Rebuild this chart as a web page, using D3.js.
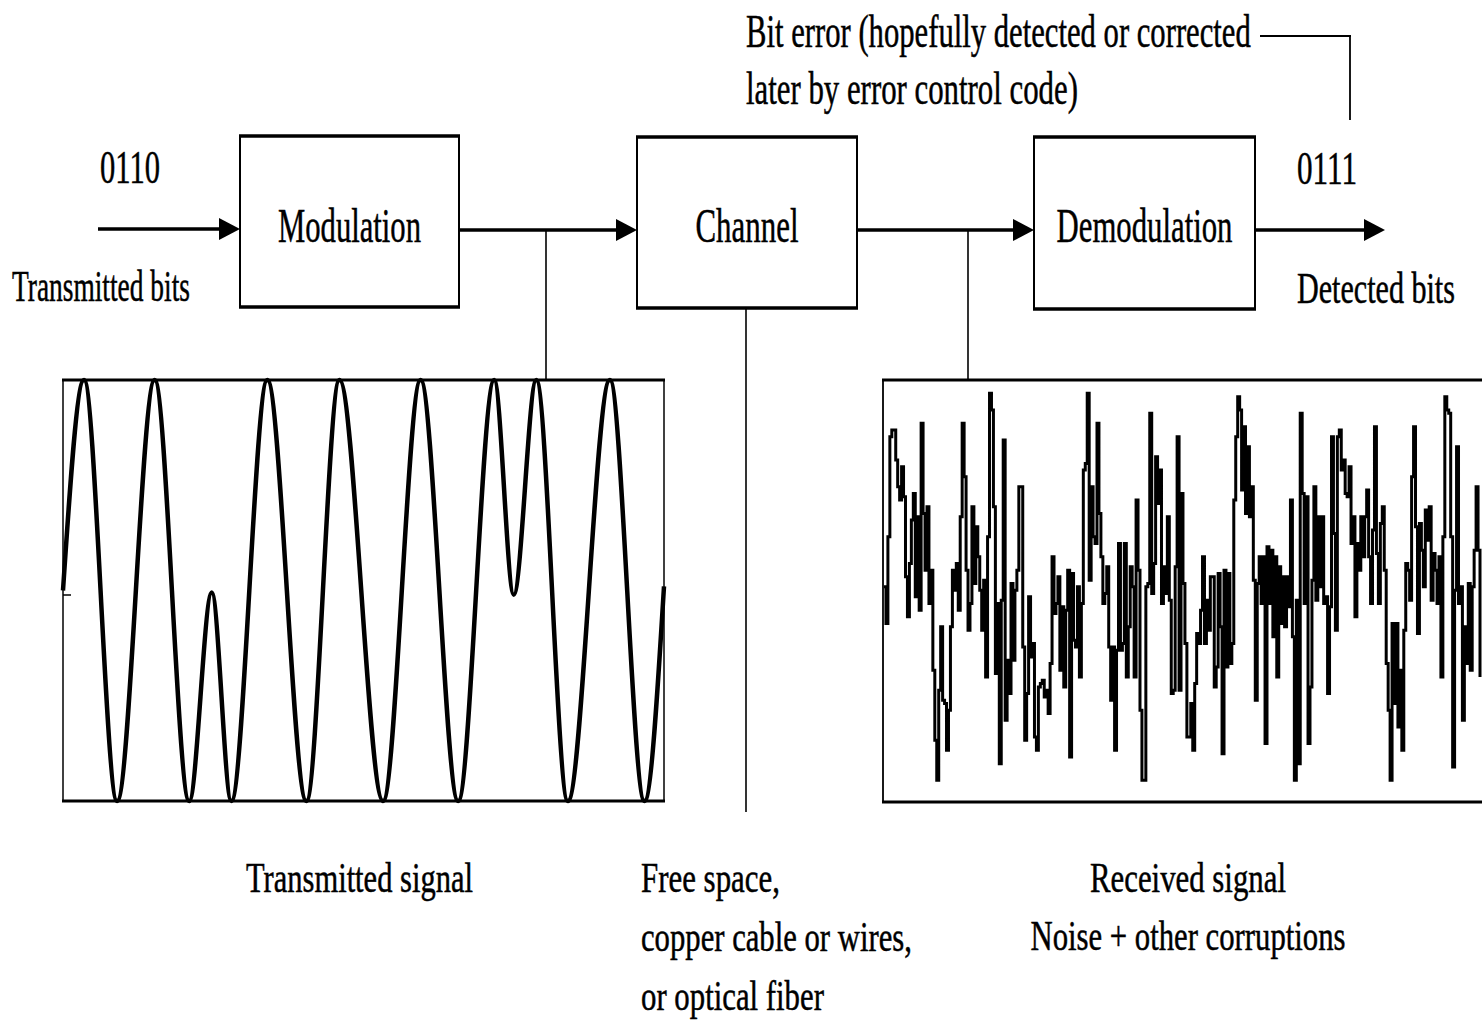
<!DOCTYPE html>
<head>
    <meta charset="utf-8">
    <title>Digital communication system</title>
    <script type="text/javascript" src="https://d3js.org/d3.v7.min.js"></script>
    <style>
        body { margin: 0; background: #fff; }
        text { font-family: "Liberation Serif", "DejaVu Serif", serif; fill: #000; stroke: #000; stroke-width: 0.5px; }
    </style>
</head>
<body>
<div id="container"></div>
<script>
    //-----------------------------DATA------------------------------//
    const blockLabels = ["Modulation", "Channel", "Demodulation"];
    const transmittedBits = "0110";
    const detectedBits = "0111";
    const bitErrorNote = ["Bit error (hopefully detected or corrected", "later by error control code)"];
    const channelNote = ["Free space,", "copper cable or wires,", "or optical fiber"];
    const receivedNote = ["Received signal", "Noise + other corruptions"];

    // transmitted (BPSK) signal, extrema: [time in bit periods, amplitude]
    const txSignal = [
        [0.00, 0.00], [0.14, 1], [0.36, -1], [0.61, 1], [0.84, -1], [0.99, -0.01],
        [1.12, -1], [1.36, 1], [1.62, -1], [1.84, 1], [2.13, -1], [2.38, 1],
        [2.63, -1], [2.87, 1], [3.00, -0.02], [3.15, 1], [3.36, -1], [3.64, 1],
        [3.87, -1], [4.00, 0.02]
    ];

    // received signal, sample-and-hold values (arbitrary units)
    const rxSignal = [
        1, -10, 16, 46, 48, 48, 39, 31, 27, 37, 28, 4, -8, 8, 21, 29, -2, 22, -6, 50,
        23, 6, 25, -4, 6, -24, -45, -57, -30, -11, -33, -34, -48, -36, -11, 6, 0, 8, -6, 22,
        50, 34, 6, -12, -4, 25, 2, 19, 10, 0, -12, 3, -26, 16, 59, 54, 25, -25, -4, -52,
        -3, 45, -39, -21, -31, 2, -21, 0, 6, 31, 31, -17, -45, -31, -2, -20, -16, -44, -48, -29,
        -28, -27, -32, -30, -37, -22, 10, -7, -4, 4, -24, -5, -29, -6, 6, -50, 5, -15, -17, 1,
        -26, -4, 36, 38, 59, 3, 31, 16, 14, 50, 23, 10, -4, -1, 7, -17, -33, -17, -48, -18,
        14, -18, -16, 14, -26, -11, 7, 1, -26, 27, 6, -36, -57, -57, 1, 2, 53, -1, 8, 40,
        26, 36, -4, 7, -1, 22, -3, -31, -30, 7, 46, -30, 29, 2, -16, -44, -44, -34, -48, -28,
        -13, -16, -6, 10, -16, -3, -12, 4, 4, -29, -23, 5, -11, -49, 6, -23, 5, -22, -16, 27,
        46, 58, 54, 30, 49, 23, 43, 22, 31, 3, -33, 2, 10, -4, 10, -46, 13, -4, 12, -14,
        10, -26, 7, -10, 4, -11, 4, -5, 27, -14, -57, -3, -52, 53, 29, -4, 28, -46, -29, 3,
        31, -3, 22, 1, 22, -4, -2, -31, -5, 46, 17, -12, 46, 48, 36, 39, 29, 28, 37, 14,
        22, -8, 14, 6, 22, 10, 22, 30, 10, -4, 18, 49, 11, -4, 20, 25, 6, -22, -36, -57,
        -10, -34, -10, -41, -24, -48, -12, 8, 6, -3, 34, 49, 19, -13, 20, 12, 1, 24, 15, 25,
        -3, 11, 6, -4, 10, -26, 16, 58, 54, 53, 16, -53, 0, 43, -4, 1, -39, -11, -22, 2,
        -24, 1, 12, 31, 12, -26
    ];

    //-----------------------------SVG-------------------------------//
    const width = 1482;
    const height = 1020;

    const svg = d3.select("div#container").append("svg")
        .attr("width", width)
        .attr("height", height);

    // condensed serif: squeeze each label horizontally to the width it has in the reference
    function label(str, x, y, w, size, anchor) {
        const t = svg.append("text")
            .attr("font-size", size)
            .attr("text-anchor", anchor || "start")
            .text(str);
        const len = t.node().getComputedTextLength();
        t.attr("transform", `translate(${x},${y}) scale(${w / len},1)`);
        return t;
    }

    function hline(x1, x2, y, sw) {
        svg.append("line").attr("x1", x1).attr("x2", x2).attr("y1", y).attr("y2", y)
            .attr("stroke", "#000").attr("stroke-width", sw);
    }
    function vline(x, y1, y2, sw) {
        svg.append("line").attr("x1", x).attr("x2", x).attr("y1", y1).attr("y2", y2)
            .attr("stroke", "#000").attr("stroke-width", sw);
    }
    function arrow(x1, x2, y) {
        hline(x1, x2 - 16, y, 3.4);
        svg.append("path")
            .attr("d", `M${x2},${y} L${x2 - 21},${y - 11} L${x2 - 21},${y + 11} Z`)
            .attr("fill", "#000");
    }

    //----------------------------BLOCKS-----------------------------//
    const blocks = [
        {x: 240, y: 136, w: 219, h: 171, tw: 143},
        {x: 637, y: 137, w: 220, h: 171, tw: 103},
        {x: 1034, y: 137, w: 221, h: 172, tw: 176}
    ];
    blocks.forEach(function(b, i) {
        svg.append("rect")
            .attr("x", b.x).attr("y", b.y).attr("width", b.w).attr("height", b.h)
            .attr("fill", "none").attr("stroke", "#000").attr("stroke-width", 2);
        hline(b.x - 1, b.x + b.w + 1, b.y, 3.5);
        hline(b.x - 1, b.x + b.w + 1, b.y + b.h, 3.5);
        label(blockLabels[i], b.x + b.w / 2, 242, b.tw, 48, "middle");
    });

    //---------------------------ARROWS------------------------------//
    arrow(98, 240, 229);
    arrow(459, 637, 230);
    arrow(857, 1034, 230);
    arrow(1255, 1385, 230);

    vline(546, 230, 380, 1.6);
    vline(746, 308, 812, 1.6);
    vline(968, 230, 380, 1.6);

    // bit error leader
    hline(1260, 1351, 36, 2.2);
    vline(1350, 35, 120, 1.8);

    //----------------------------TEXT-------------------------------//
    label(transmittedBits, 100, 183, 60, 46);
    label("Transmitted bits", 12, 301, 178, 44);
    label(detectedBits, 1297, 184, 60, 46);
    label("Detected bits", 1297, 303, 158, 44);
    label(bitErrorNote[0], 746, 47, 505, 46);
    label(bitErrorNote[1], 746, 104, 332, 46);

    label("Transmitted signal", 246, 892, 227, 42);
    channelNote.forEach(function(s, i) {
        label(s, 641, 892 + i * 59, [139, 271, 183][i], 42);
    });
    receivedNote.forEach(function(s, i) {
        label(s, 1188, 892 + i * 58, [196, 315][i], 42, "middle");
    });

    //----------------------TRANSMITTED SIGNAL-----------------------//
    const tx = {left: 63, right: 664, top: 380, bottom: 801};
    const txX = d3.scaleLinear().domain([0, 4]).range([tx.left, tx.right]);
    const txY = d3.scaleLinear().domain([-1, 1]).range([tx.bottom, tx.top]);

    hline(tx.left - 1, tx.right + 1, tx.top, 3);
    hline(tx.left - 1, tx.right + 1, tx.bottom, 3);
    vline(tx.left, tx.top, tx.bottom, 1.5);
    vline(tx.right, tx.top, tx.bottom, 1.5);
    hline(tx.left, tx.left + 8, 595, 1.5);

    const txLine = d3.line()
        .x(function(d) { return txX(d[0]); })
        .y(function(d) { return txY(d[1]); })
        .curve(d3.curveMonotoneX);

    svg.append("path")
        .datum(txSignal)
        .attr("d", txLine)
        .attr("fill", "none")
        .attr("stroke", "#000")
        .attr("stroke-width", 4.5);

    //------------------------RECEIVED SIGNAL------------------------//
    const rx = {left: 883, right: 1482, top: 380, bottom: 802};
    const rxX = d3.scaleLinear().domain([0, rxSignal.length - 1]).range([rx.left + 1, 1480]);
    const rxY = d3.scaleLinear().domain([-63.5, 63]).range([rx.bottom, rx.top]);

    hline(rx.left - 1, rx.right, rx.top, 3);
    hline(rx.left - 1, rx.right, rx.bottom, 3);
    vline(rx.left, rx.top, rx.bottom, 1.8);

    const rxLine = d3.line()
        .x(function(d, i) { return rxX(i); })
        .y(function(d) { return rxY(d); })
        .curve(d3.curveStepAfter);

    svg.append("path")
        .datum(rxSignal)
        .attr("d", rxLine)
        .attr("fill", "none")
        .attr("stroke", "#000")
        .attr("stroke-width", 3);
</script>
</body>
